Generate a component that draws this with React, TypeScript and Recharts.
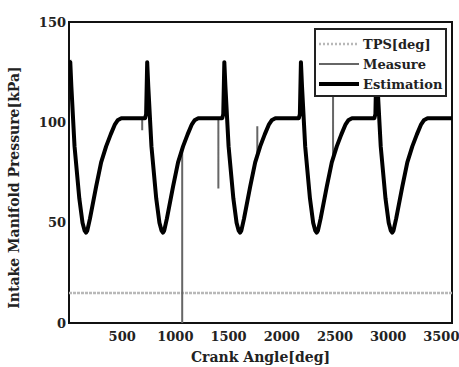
import React from 'react';
import { LineChart, Line, XAxis, YAxis, ReferenceArea } from 'recharts';

// crank angle [deg] / pressure [kPa]
const estAngle = [
  0, 12, 22, 52, 97, 127, 147, 160, 172, 197, 255, 302, 349, 392, 432, 457, 492, 715, 725,
  735, 745, 775, 820, 850, 870, 883, 895, 920, 978, 1025, 1072, 1115, 1155, 1180, 1215, 1440, 1450,
  1460, 1470, 1500, 1545, 1575, 1595, 1608, 1620, 1645, 1703, 1750, 1797, 1840, 1880, 1905, 1940, 2160, 2170,
  2180, 2190, 2220, 2265, 2295, 2315, 2328, 2340, 2365, 2423, 2470, 2517, 2560, 2600, 2625, 2660, 2870, 2880,
  2890, 2900, 2930, 2975, 3005, 3025, 3038, 3050, 3075, 3133, 3180, 3227, 3270, 3310, 3335, 3370, 3600,
];
const estValue = [
  129, 130, 118, 88, 62, 50, 46, 45, 46, 52, 68, 80, 88, 94, 99, 101, 102, 102, 104,
  130, 118, 88, 62, 50, 46, 45, 46, 52, 68, 80, 88, 94, 99, 101, 102, 102, 104,
  130, 118, 88, 62, 50, 46, 45, 46, 52, 68, 80, 88, 94, 99, 101, 102, 102, 104,
  130, 118, 88, 62, 50, 46, 45, 46, 52, 68, 80, 88, 94, 99, 101, 102, 102, 104,
  130, 118, 88, 62, 50, 46, 45, 46, 52, 68, 80, 88, 94, 99, 101, 102, 102,
];

// measured signal follows the estimate except for these sensor spikes
const spikeAngle = [688, 1064, 1404, 1770, 2482];
const spikeBase = [102, 87, 102, 83, 82];
const spikeTip = [96, 0, 67, 98, 125];

const tpsAngle = [0, 3600];
const tpsValue = [15, 15];

const xTicks = [500, 1000, 1500, 2000, 2500, 3000, 3500];
const yTicks = [0, 50, 100, 150];

const estData = estAngle.map((a, i) => ({ a, v: estValue[i] }));
const measData = [
  ...estData,
  ...spikeAngle.flatMap((a, i) => [
    { a, v: spikeBase[i] },
    { a, v: spikeTip[i] },
    { a, v: spikeBase[i] },
  ]),
].sort((p, q) => p.a - q.a);
const tpsData = tpsAngle.map((a, i) => ({ a, v: tpsValue[i] }));

const FONT = '"DejaVu Serif", "Liberation Serif", serif';
const tickStyle = { fill: '#222', fontSize: 13, fontFamily: FONT, fontWeight: 600 };
const labelStyle = { ...tickStyle, fontSize: 14 };

const legendRows = [
  { name: 'TPS[deg]', stroke: '#b8b8b8', width: 2.5, dash: '2 2' },
  { name: 'Measure', stroke: '#666', width: 2, dash: undefined },
  { name: 'Estimation', stroke: '#000', width: 4, dash: undefined },
];

export default function App() {
  return (
    <div style={{ position: 'absolute', left: 0, top: 0, width: 459, height: 367, background: '#fff' }}>
      <LineChart width={459} height={367} margin={{ top: 22, right: 7, bottom: 0, left: 0 }}>
        <XAxis
          dataKey="a"
          type="number"
          domain={[0, 3600]}
          ticks={xTicks}
          allowDataOverflow
          height={44}
          tickLine={false}
          axisLine={false}
          tickSize={0}
          tickMargin={9}
          tick={tickStyle}
          label={{ value: 'Crank Angle[deg]', position: 'insideBottom', offset: 5, style: labelStyle }}
        />
        <YAxis
          type="number"
          domain={[0, 150]}
          ticks={yTicks}
          allowDataOverflow
          width={69}
          tickLine={false}
          axisLine={false}
          tickSize={0}
          tickMargin={3}
          tick={tickStyle}
          label={{
            value: 'Intake Manifold Pressure[kPa]',
            angle: -90,
            position: 'insideLeft',
            offset: 14,
            dy: 15,
            style: { ...labelStyle, textAnchor: 'middle' },
          }}
        />
        <Line data={tpsData} dataKey="v" stroke="#b8b8b8" strokeWidth={2.5} strokeDasharray="3 1" dot={false} isAnimationActive={false} />
        <Line data={measData} dataKey="v" stroke="#666" strokeWidth={2} dot={false} isAnimationActive={false} />
        <Line data={estData} dataKey="v" stroke="#000" strokeWidth={4} strokeLinejoin="round" dot={false} isAnimationActive={false} />
        <ReferenceArea x1={0} x2={3600} y1={0} y2={150} fill="none" stroke="#111" strokeWidth={2} />
      </LineChart>
      <div
        style={{
          position: 'absolute',
          left: 314,
          top: 28,
          width: 133,
          height: 69,
          boxSizing: 'border-box',
          border: '2px solid #222',
          background: '#fff',
          fontFamily: FONT,
          fontWeight: 600,
          fontSize: 13,
          color: '#222',
          paddingTop: 4,
        }}
      >
        {legendRows.map((r) => (
          <div key={r.name} style={{ display: 'flex', alignItems: 'center', height: 20 }}>
            <svg width={44} height={10} style={{ marginLeft: 3 }}>
              <line x1={0} y1={5} x2={40} y2={5} stroke={r.stroke} strokeWidth={r.width} strokeDasharray={r.dash} />
            </svg>
            <span>{r.name}</span>
          </div>
        ))}
      </div>
    </div>
  );
}
